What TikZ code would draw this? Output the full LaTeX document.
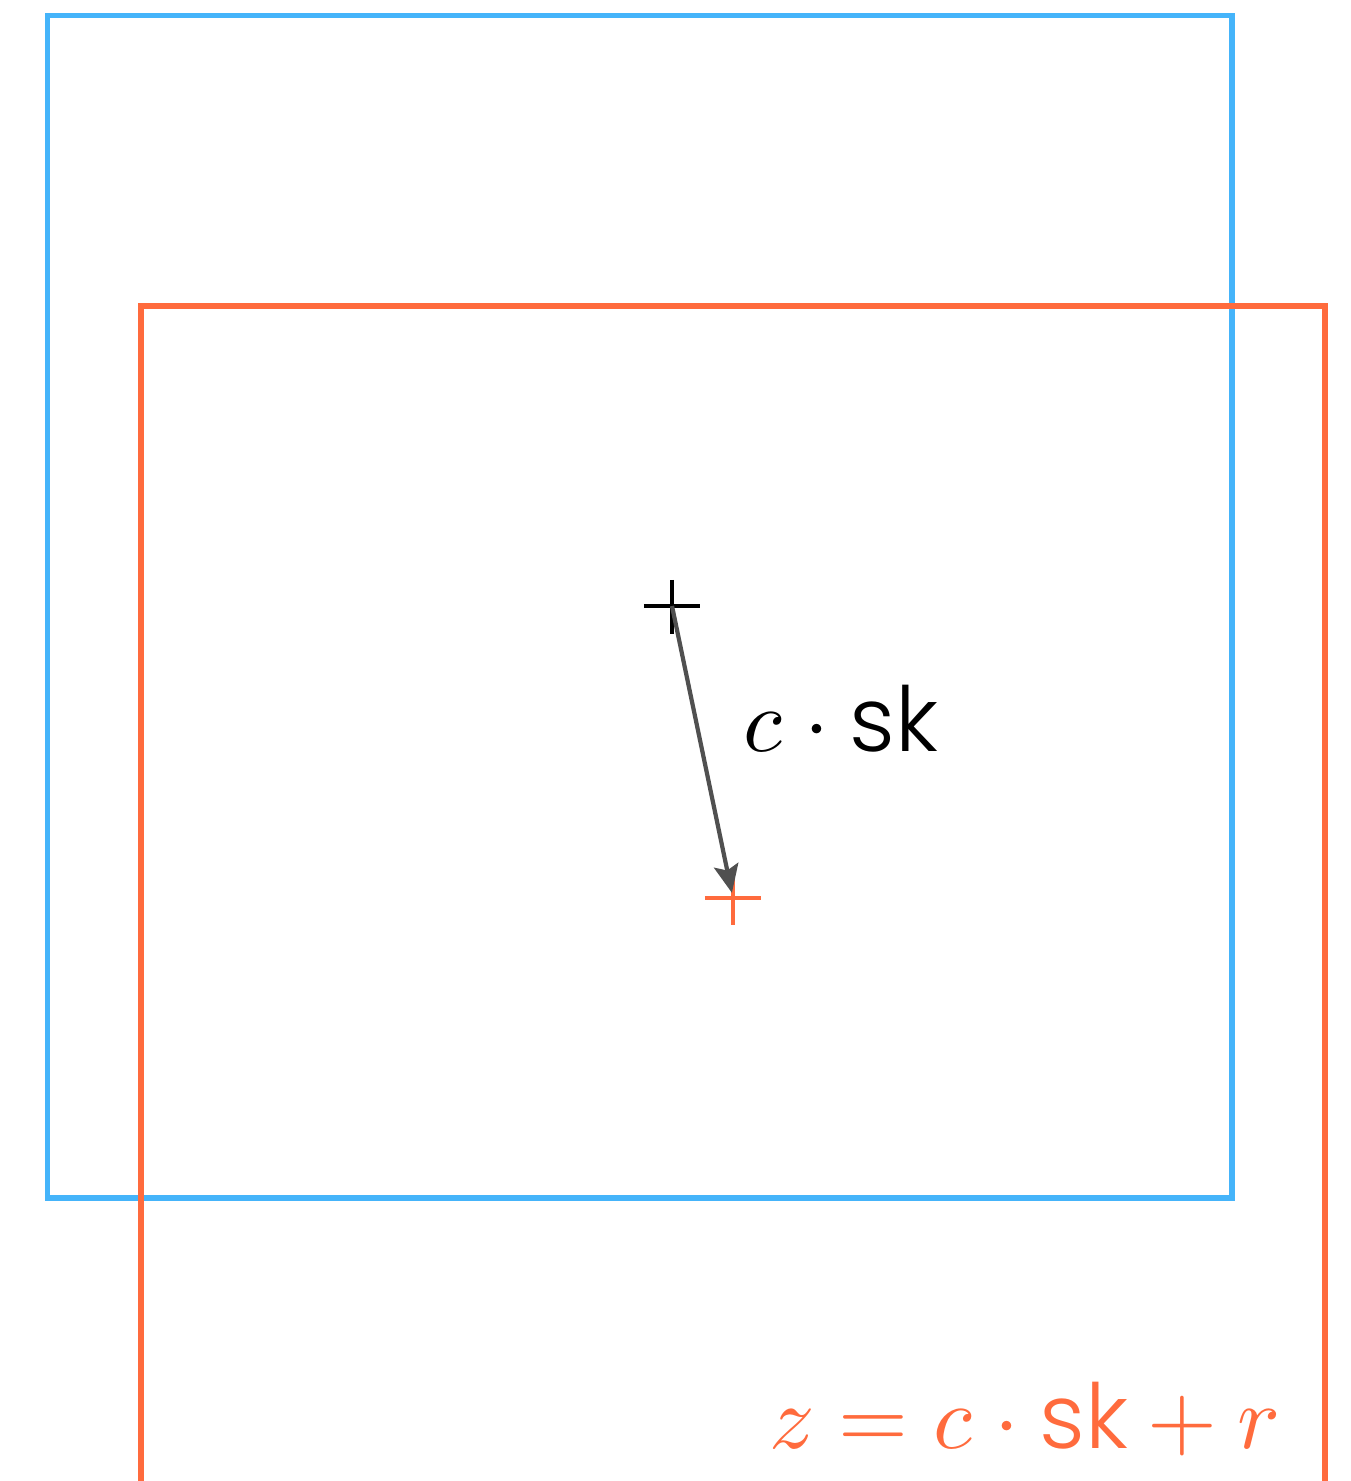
\documentclass[tikz,border=0pt]{standalone}
\usepackage{fontspec}
\usepackage{unicode-math}
\setmathfont{Latin Modern Math}
\setsansfont{Poppins}[UprightFont=* Light]
\usetikzlibrary{arrows.meta}
\definecolor{skblue}{HTML}{45B4FA}
\definecolor{zorange}{HTML}{FF6B3D}
\definecolor{arrowgray}{HTML}{505050}
\begin{document}
\begin{tikzpicture}[
  x=0.01cm, y=-0.01cm,
  frame/.style={line width=1.5pt},
  cross/.style={line width=1.2pt},
  label/.style={font=\fontsize{25.5}{28}\selectfont, inner sep=0pt},
  arrow/.style={-{Stealth[length=8pt, width=7pt, inset=1.5pt]}, line width=1.2pt, arrowgray, shorten >=1.5pt}
]
\useasboundingbox (0,0) rectangle (1351,1481);

% Boxes
\draw[frame, skblue] (47.5,15.5) rectangle (1232,1198);
\draw[frame, zorange] (141,1481) -- (141,306) -- (1325,306) -- (1325,1481);

% Points
\coordinate (sk) at (672,606);
\coordinate (z) at (733,898);
\draw[cross] ([xshift=-0.28cm]sk) -- ([xshift=0.28cm]sk) ([yshift=0.26cm]sk) -- ([yshift=-0.28cm]sk);
\draw[cross, zorange] ([xshift=-0.28cm]z) -- ([xshift=0.28cm]z) ([yshift=0.25cm]z) -- ([yshift=-0.27cm]z);

% Step
\draw[arrow] (sk) -- (z);
\node[label, anchor=base west] (step) at (743,751) {$c\cdot\textsf{sk}$};

% Result
\node[label, zorange, anchor=base east] (result) at (1280,1448) {$z = c\cdot\textsf{sk} + r$};

\end{tikzpicture}
\end{document}
